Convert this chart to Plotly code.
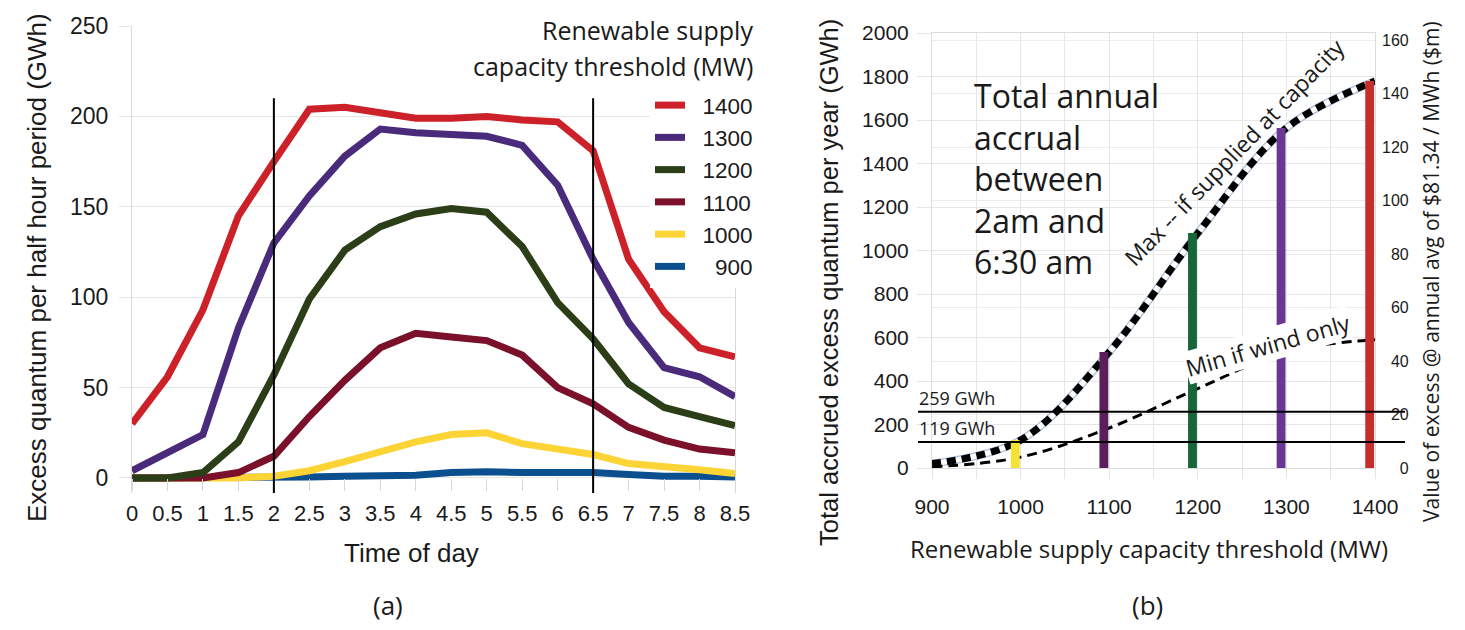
import plotly.graph_objects as go

W, H = 1465, 630

# ---------- (a) excess per half-hour period ----------
time_of_day = [0, 0.5, 1, 1.5, 2, 2.5, 3, 3.5, 4, 4.5, 5, 5.5, 6, 6.5, 7, 7.5, 8, 8.5]
threshold_names = ["900", "1000", "1100", "1200", "1300", "1400"]
excess_900 = [0, 0, 0, 0, 0, 0.5, 1, 1, 1.5, 3, 3.5, 3, 3, 3, 2, 1, 1, 0.5]
excess_1000 = [0, 0, 0, 0, 1, 4, 9, 15, 20, 24, 25, 19, 16, 13, 8, 6.5, 4.5, 2.5]
excess_1100 = [0, 0, 0, 3, 12, 34, 54, 72, 80, 78, 76, 68, 50, 41, 28, 21, 16, 14]
excess_1200 = [0, 0, 3, 20, 57, 99, 126, 139, 146, 149, 147, 128, 97, 77, 52, 39, 34, 29]
excess_1300 = [4, 14, 24, 83, 130, 156, 178, 193, 191, 190, 189, 184, 162, 121, 86, 61, 56, 45]
excess_1400 = [30, 56, 93, 145, 175, 204, 205, 202, 199, 199, 200, 198, 197, 181, 121, 92, 72, 67]
series_colors = ["#0b4f8e", "#fdd436", "#7a1029", "#2b3e18", "#4a2a7b", "#cc2128"]

window_bounds = [2, 6.5]   # 2am and 6:30am
window_top = 210

# ---------- (b) annual accrual vs threshold ----------
capacity_mw = [900, 1000, 1100, 1200, 1300, 1400]
max_accrual = [20, 128, 533, 1080, 1563, 1779]
min_accrual = [5, 50, 184, 365, 535, 590]
bar_capacity = [1000, 1100, 1200, 1300, 1400]
bar_accrual = [128, 533, 1080, 1563, 1779]
bar_colors = ["#f4e236", "#5a1e5c", "#17663a", "#6b3795", "#c62d2b"]
ref_levels = [259, 119]
ref_labels = ["259 GWh", "119 GWh"]
price_per_mwh = 81.34

# value of the accrued excess in $m (GWh * $/MWh / 1000)
bar_value = [g * price_per_mwh / 1000 for g in bar_accrual]

ARIAL = "Liberation Sans, Arial, sans-serif"
HUMANIST = "Open Sans, Noto Sans, sans-serif"
INK = "#1a1a1a"
GRID = "#e6e6e6"


def px(x):
    return x / W


def py(y):
    return 1 - y / H


fig = go.Figure()

series = [excess_900, excess_1000, excess_1100, excess_1200, excess_1300, excess_1400]
for name, vals, col in zip(threshold_names, series, series_colors):
    label = ("\u2007" + name) if len(name) == 3 else name
    fig.add_trace(go.Scatter(
        x=time_of_day, y=vals, mode="lines", name="\u00a0\u00a0" + label,
        line=dict(color=col, width=7), xaxis="x", yaxis="y",
    ))

fig.add_trace(go.Bar(
    x=bar_capacity, y=bar_value, width=10, offset=-11,
    marker=dict(color=bar_colors, line=dict(width=0)),
    xaxis="x2", yaxis="y3", showlegend=False,
))

# max curve: pale casing, white core, black dashes
fig.add_trace(go.Scatter(x=capacity_mw, y=max_accrual, mode="lines",
                         line=dict(color="#b7c6de", width=8, shape="spline"),
                         xaxis="x2", yaxis="y2", showlegend=False))
fig.add_trace(go.Scatter(x=capacity_mw, y=max_accrual, mode="lines",
                         line=dict(color="white", width=5, shape="spline"),
                         xaxis="x2", yaxis="y2", showlegend=False))
fig.add_trace(go.Scatter(x=capacity_mw, y=max_accrual, mode="lines",
                         line=dict(color="black", width=7, shape="spline", dash="9px,6px"),
                         xaxis="x2", yaxis="y2", showlegend=False))
fig.add_trace(go.Scatter(x=capacity_mw, y=min_accrual, mode="lines",
                         line=dict(color="black", width=3, shape="spline", dash="10px,6px"),
                         xaxis="x2", yaxis="y2", showlegend=False))

shapes = []
for t in window_bounds:
    shapes.append(dict(type="line", xref="x", yref="y", x0=t, x1=t,
                       y0=-8.3, y1=window_top, line=dict(color="black", width=2)))
for lvl in ref_levels:
    shapes.append(dict(type="line", xref="paper", yref="y2", x0=px(918), x1=px(1405),
                       y0=lvl, y1=lvl, line=dict(color="black", width=2)))

annotations = []
for lvl, txt in zip(ref_levels, ref_labels):
    annotations.append(dict(text=txt, xref="paper", yref="y2", x=px(917), y=lvl,
                            xanchor="left", yanchor="bottom", yshift=0, showarrow=False,
                            font=dict(family=HUMANIST, size=18, color=INK)))


def note(text, x, y, size, family=HUMANIST, angle=0, **kw):
    d = dict(text=text, xref="paper", yref="paper", x=px(x), y=py(y),
             showarrow=False, textangle=angle,
             font=dict(family=family, size=size, color=INK))
    d.setdefault("xanchor", "center")
    d.setdefault("yanchor", "middle")
    d.update(kw)
    annotations.append(d)


note("Renewable supply", 755, 30, 25, xanchor="right", bgcolor="white")
note("capacity threshold (MW)", 755, 66, 25, xanchor="right", bgcolor="white")
note("Total annual<br>accrual<br>between<br>2am and<br>6:30 am", 972, 178, 32,
     xanchor="left", align="left")
note("Max -- if supplied at capacity", 1234, 152, 23, angle=-46)
note("Min if wind only", 1268, 345, 23, angle=-16, bgcolor="white", borderpad=0)
note("Excess quantum per half hour period (GWh)", 37, 268, 26, family=ARIAL, angle=-90)
note("Time of day", 411, 553, 26, family=ARIAL)
note("Total accrued excess quantum per year (GWh)", 829, 283, 25.5, family=ARIAL, angle=-90)
note("Value of excess @ annual avg of $81.34 / MWh ($m)", 1431, 272, 21, angle=-90)
note("Renewable supply capacity threshold (MW)", 1149, 548, 24)
note("(a)", 388, 605, 26)
note("(b)", 1147, 605, 26)

right_max = 2000 * price_per_mwh / 1000
right_ticks = [0, 20, 40, 60, 80, 100, 120, 140, 160]

fig.update_layout(
    width=W, height=H, margin=dict(l=0, r=0, t=0, b=0, autoexpand=False),
    paper_bgcolor="white", plot_bgcolor="rgba(0,0,0,0)",
    barmode="overlay",
    shapes=shapes, annotations=annotations,
    legend=dict(x=px(650), y=py(84), xanchor="left", yanchor="top",
                bgcolor="white", traceorder="reversed", itemwidth=30,
                font=dict(family=ARIAL, size=22.5, color=INK)),
    xaxis=dict(domain=[px(132), px(735)], range=[0, 8.5], tick0=0, dtick=0.5,
               showgrid=False, zeroline=False, showline=False,
               ticks="outside", ticklen=12, tickcolor="#d6d6d6",
               anchor="free", position=py(478), ticklabelstandoff=4,
               tickfont=dict(family=ARIAL, size=22, color=INK)),
    yaxis=dict(domain=[py(493), py(26)], range=[-8.3, 250],
               tickvals=[0, 50, 100, 150, 200, 250],
               showgrid=True, gridcolor=GRID, zeroline=False,
               showline=True, linecolor="#d9d9d9", mirror=True,
               ticks="outside", ticklen=12, tickcolor=GRID, ticklabelstandoff=6,
               tickfont=dict(family=ARIAL, size=23, color=INK), anchor="x"),
    xaxis2=dict(domain=[px(932), px(1375)], range=[900, 1400],
                tickvals=[900, 950, 1000, 1050, 1100, 1150, 1200, 1250, 1300, 1350, 1400],
                ticktext=["900", "", "1000", "", "1100", "", "1200", "", "1300", "", "1400"],
                showgrid=True, gridcolor=GRID, zeroline=False,
                showline=True, linecolor="#dcdcdc", mirror=True,
                ticks="outside", ticklen=10, tickcolor=GRID, ticklabelstandoff=10,
                tickfont=dict(family=ARIAL, size=21, color=INK), anchor="y2"),
    yaxis2=dict(domain=[py(468), py(33)], range=[0, 2000], dtick=200,
                showgrid=True, gridcolor=GRID, zeroline=False,
                showline=True, linecolor="#dcdcdc", mirror=True,
                ticks="outside", ticklen=14, tickcolor=GRID, ticklabelstandoff=4,
                tickfont=dict(family=ARIAL, size=21, color=INK), anchor="x2"),
    yaxis3=dict(overlaying="y2", side="right", anchor="x2", range=[0, right_max],
                tickvals=right_ticks,
                ticktext=[("\u2007" * (3 - len(str(v)))) + str(v) for v in right_ticks],
                showgrid=True, gridcolor="#ececec", zeroline=False, showline=False,
                ticks="", ticklabelstandoff=6,
                tickfont=dict(family=ARIAL, size=16, color=INK)),
)

fig.write_html("out.html")
